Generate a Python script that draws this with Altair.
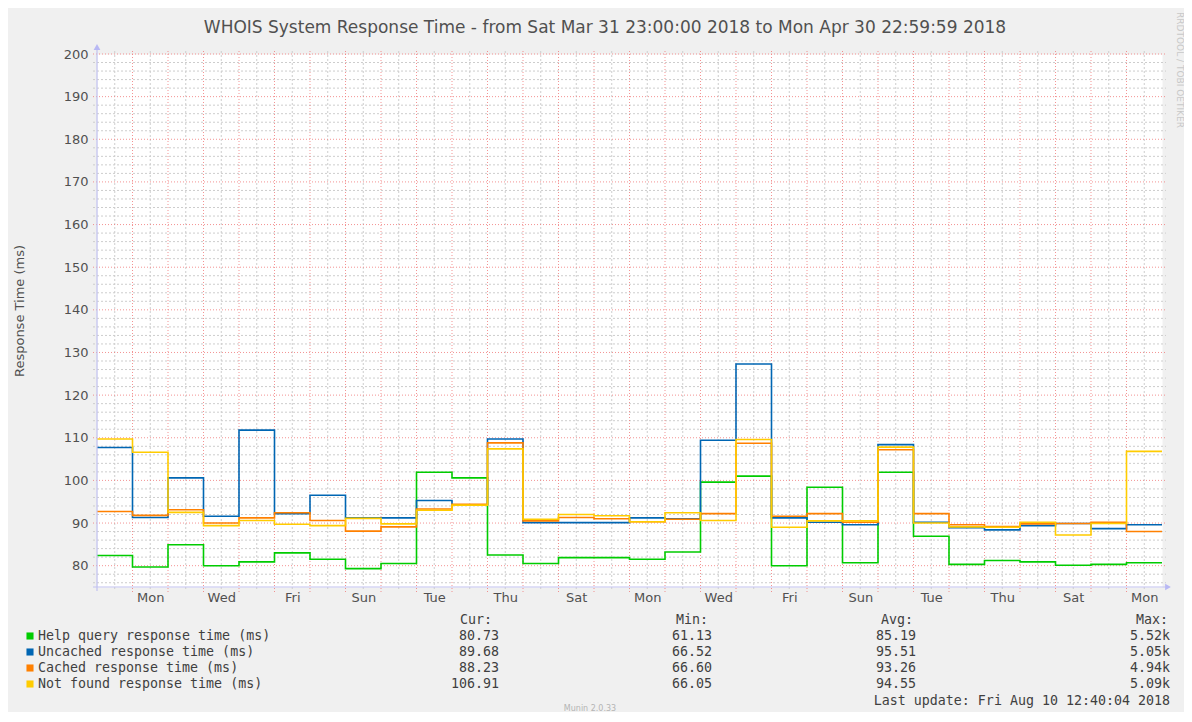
import json
import altair as alt
import pandas as pd

# ---------------- data ----------------
days = list(range(30))  # day 0 = Sun Apr 1 2018
help_ms = [82.4, 79.7, 84.9, 80.0, 80.9, 83.0, 81.5, 79.3, 80.5, 101.9,
           100.6, 82.5, 80.5, 81.9, 81.9, 81.5, 83.2, 99.6, 101.0, 80.0,
           98.4, 80.7, 101.9, 86.9, 80.3, 81.2, 80.9, 80.1, 80.3, 80.7]
uncached_ms = [107.7, 91.3, 100.6, 91.6, 111.8, 92.2, 96.5, 91.2, 91.2, 95.3,
               94.3, 109.7, 90.1, 90.1, 90.1, 91.2, 91.0, 109.4, 127.3, 91.2,
               90.2, 89.6, 108.4, 90.2, 88.9, 88.4, 89.4, 89.9, 88.7, 89.6]
cached_ms = [92.7, 91.8, 93.1, 90.0, 91.2, 92.4, 90.6, 88.1, 89.1, 93.3,
             94.4, 108.8, 90.5, 91.3, 91.0, 90.3, 90.9, 92.2, 108.7, 91.6,
             92.2, 90.2, 107.2, 92.2, 89.6, 89.2, 89.8, 89.9, 90.2, 88.0]
notfound_ms = [109.7, 106.6, 92.5, 89.4, 90.6, 89.7, 89.4, 91.1, 89.8, 93.0,
               94.2, 107.4, 90.9, 92.0, 91.7, 90.3, 92.4, 90.6, 109.6, 89.0,
               90.5, 90.5, 107.8, 90.0, 89.1, 89.0, 90.2, 87.2, 89.9, 106.8]

series_names = ["Help query response time (ms)", "Uncached response time (ms)",
                "Cached response time (ms)", "Not found response time (ms)"]
series_colors = ["#00CC00", "#0066B3", "#FF8000", "#FFCC00"]
cur_vals = ["80.73", "89.68", "88.23", "106.91"]
min_vals = ["61.13", "66.52", "66.60", "66.05"]
avg_vals = ["85.19", "95.51", "93.26", "94.55"]
max_vals = ["5.52k", "5.05k", "4.94k", "5.09k"]

x_tick_labels = ["Mon", "Wed", "Fri", "Sun", "Tue", "Thu", "Sat", "Mon",
                 "Wed", "Fri", "Sun", "Tue", "Thu", "Sat", "Mon"]
y_ticks = list(range(80, 201, 10))

title_text = "WHOIS System Response Time - from Sat Mar 31 23:00:00 2018 to Mon Apr 30 22:59:59 2018"
y_title = "Response Time (ms)"
last_update = "Last update: Fri Aug 10 12:40:04 2018"
version_text = "Munin 2.0.33"
side_text = "RRDTOOL / TOBI OETIKER"

# ---------------- layout ----------------
W, H = 1065, 533
PL, PT = 89, 46          # plot origin on the page = (8+PL, 8+PT) = (97, 54)
OX, OY = 8 + PL, 8 + PT
TOTAL_W, TOTAL_H = 1176, 704

xs = alt.Scale(domain=[0, 30], nice=False, zero=False)
ys = alt.Scale(domain=[75, 200], nice=False, zero=False)

MONO = "DejaVu Sans Mono"
SANS = "DejaVu Sans"

x_axis = alt.Axis(values=[d + 0.5 for d in days if d % 2 == 1],
                  labelExpr=json.dumps(x_tick_labels) + "[floor(datum.value / 2)]",
                  domain=False, ticks=False, grid=False, title=None,
                  labelFont=SANS, labelFontSize=13, labelColor="#505050",
                  labelPadding=4, labelAngle=0)
y_axis = alt.Axis(values=y_ticks, domain=False, ticks=False, grid=False, title=None,
                  labelFont=SANS, labelFontSize=13, labelColor="#505050",
                  labelPadding=9)

# ---------------- grid ----------------
minor_h = pd.DataFrame({"v": [v for v in range(76, 200, 2) if v % 10 != 0]})
major_h = pd.DataFrame({"v": y_ticks})
minor_v = pd.DataFrame({"d": [d + 0.5 for d in days]})
major_v = pd.DataFrame({"d": [d for d in days if d > 0]})

grid_gray = "#CDCDCD"
grid_red = "#F07878"

layers = []
layers.append(alt.Chart(minor_h).mark_rule(color=grid_gray, strokeWidth=1, strokeDash=[2, 2]).encode(
    y=alt.Y("v:Q", scale=ys, axis=y_axis), x=alt.value(-4), x2=alt.value(W + 4)))
layers.append(alt.Chart(minor_v).mark_rule(color=grid_gray, strokeWidth=1, strokeDash=[2, 2]).encode(
    x=alt.X("d:Q", scale=xs, axis=x_axis), y=alt.value(-3), y2=alt.value(H + 4)))
layers.append(alt.Chart(major_h).mark_rule(color=grid_red, strokeWidth=1, strokeDash=[1, 2], opacity=0.8).encode(
    y=alt.Y("v:Q", scale=ys, axis=y_axis), x=alt.value(-4), x2=alt.value(W + 4)))
layers.append(alt.Chart(major_v).mark_rule(color=grid_red, strokeWidth=1, strokeDash=[1, 2], opacity=0.8).encode(
    x=alt.X("d:Q", scale=xs, axis=x_axis), y=alt.value(-3), y2=alt.value(H + 5)))

# ---------------- series ----------------
rows = []
for name, vals in zip(series_names, [help_ms, uncached_ms, cached_ms, notfound_ms]):
    for d, v in zip(days, vals):
        rows.append({"series": name, "day": d, "value": v})
    rows.append({"series": name, "day": len(days), "value": vals[-1]})
lines_df = pd.DataFrame(rows)

for i, (name, col) in enumerate(zip(series_names, series_colors)):
    layers.append(alt.Chart(lines_df).transform_filter(
        alt.datum.series == name).mark_line(
        interpolate="step-after", color=col, strokeWidth=1.6).encode(
        x=alt.X("day:Q", scale=xs, axis=x_axis),
        y=alt.Y("value:Q", scale=ys, axis=y_axis)))

# ---------------- axis lines + arrows ----------------
axis_col = "#C2C2F0"
layers.append(alt.Chart(pd.DataFrame({"a": [0]})).mark_rule(color=axis_col, strokeWidth=1.2).encode(
    x=alt.value(0), y=alt.value(-4), y2=alt.value(H + 4)))
layers.append(alt.Chart(pd.DataFrame({"a": [0]})).mark_rule(color=axis_col, strokeWidth=1.2).encode(
    x=alt.value(-4), x2=alt.value(W + 4), y=alt.value(H)))
layers.append(alt.Chart(pd.DataFrame({"a": [0]})).mark_point(
    shape="triangle-up", filled=True, size=45, color="#B8B8F4", opacity=1).encode(
    x=alt.value(0), y=alt.value(-7)))
layers.append(alt.Chart(pd.DataFrame({"a": [0]})).mark_point(
    shape="triangle-right", filled=True, size=45, color="#B8B8F4", opacity=1).encode(
    x=alt.value(W + 6), y=alt.value(H)))


# ---------------- texts ----------------
def txt(s, px, py, align="left", size=13.3, color="#404040", font=MONO, angle=0):
    return alt.Chart(pd.DataFrame({"t": [s]})).mark_text(
        align=align, baseline="middle", font=font, fontSize=size, color=color, angle=angle
    ).encode(x=alt.value(px - OX), y=alt.value(py - OY), text="t:N")


layers.append(txt(title_text, 605, 28, align="center", size=17, color="#505050", font=SANS))
layers.append(txt(y_title, 20, 311, align="center", size=13, color="#505050", font=SANS, angle=270))
layers.append(txt(side_text, 1180, 70, align="center", size=9, color="#C8C8C8", font=SANS, angle=90))

# legend
col_value_right = [499, 712, 916, 1170]
col_header_right = [492, 708, 913, 1168]
headers = ["Cur:", "Min:", "Avg:", "Max:"]
for h, xr in zip(headers, col_header_right):
    layers.append(txt(h, xr, 620, align="right"))

row_y = [636, 652, 668, 684]
for i, name in enumerate(series_names):
    py = row_y[i]
    layers.append(alt.Chart(pd.DataFrame({"t": [name]})).mark_square(
        size=50, filled=True, color=series_colors[i], opacity=1).encode(
        x=alt.value(30 - OX), y=alt.value(py - OY)))
    layers.append(txt(name, 38, py))
    for vals, xr in zip([cur_vals, min_vals, avg_vals, max_vals], col_value_right):
        layers.append(txt(vals[i], xr, py, align="right"))

layers.append(txt(last_update, 1170, 701, align="right"))
layers.append(txt(version_text, 590, 709, align="center", size=8, color="#B4B4B4", font=SANS))

chart = alt.layer(*layers).properties(
    width=W, height=H,
    autosize=alt.AutoSizeParams(type="none"),
    padding={"left": PL, "top": PT, "right": TOTAL_W - PL - W, "bottom": TOTAL_H - PT - H},
    background="#F0F0F0",
).configure_view(fill="white", stroke="transparent")

chart.save("out.html", embed_options={"renderer": "svg", "actions": False})
